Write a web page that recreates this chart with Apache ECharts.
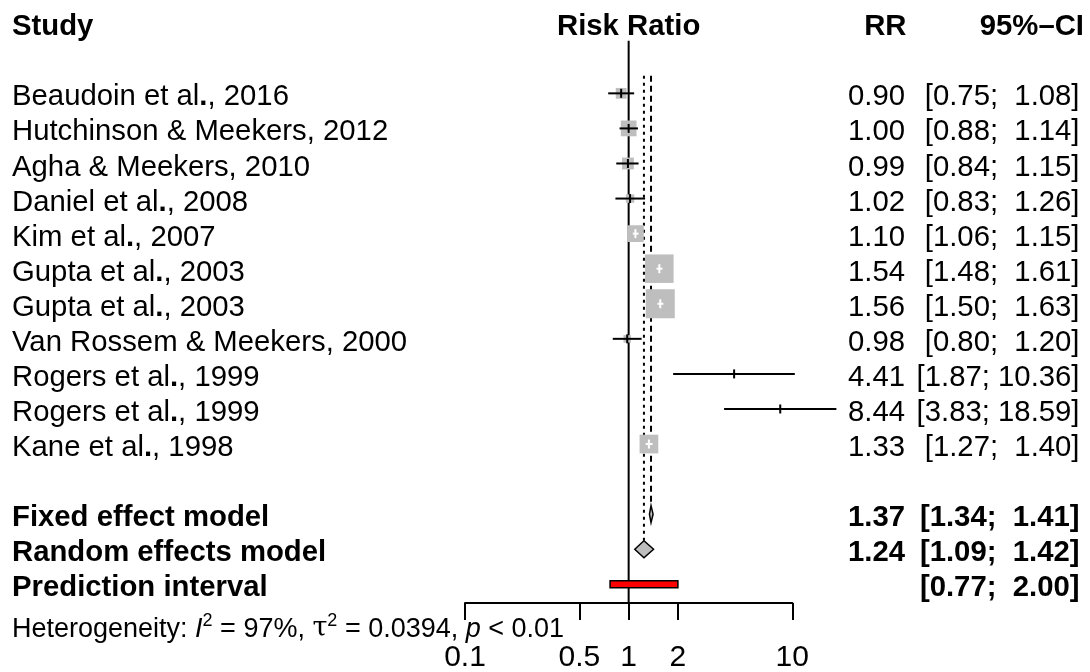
<!DOCTYPE html>
<html><head><meta charset="utf-8">
<script src="https://cdn.jsdelivr.net/npm/echarts@6/dist/echarts.min.js"></script>
<style>html,body{margin:0;padding:0;background:#fff}#c{width:1090px;height:672px}</style>
</head><body><div id="c"></div>
<script>
// ---------------- data ----------------
const studies = ['Beaudoin et al., 2016','Hutchinson & Meekers, 2012','Agha & Meekers, 2010','Daniel et al., 2008','Kim et al., 2007','Gupta et al., 2003','Gupta et al., 2003','Van Rossem & Meekers, 2000','Rogers et al., 1999','Rogers et al., 1999','Kane et al., 1998'];
const rr      = [0.90, 1.00, 0.99, 1.02, 1.10, 1.54, 1.56, 0.98, 4.41, 8.44, 1.33];
const ciLower = [0.75, 0.88, 0.84, 0.83, 1.06, 1.48, 1.50, 0.80, 1.87, 3.83, 1.27];
const ciUpper = [1.08, 1.14, 1.15, 1.26, 1.15, 1.61, 1.63, 1.20, 10.36, 18.59, 1.40];
const weights = [4.0, 8.5, 4.8, 2.4, 9.6, 27.9, 28.9, 1.9, 0.03, 0.03, 12.0];
const fixedModel = [1.37, 1.34, 1.41];     // estimate, lower, upper
const randomModel = [1.24, 1.09, 1.42];
const predictionInterval = [0.77, 2.00];
const axisTicks = [0.1, 0.5, 1, 2, 10];
const axisTickLabels = ['0.1', '0.5', '1', '2', '10'];
const hetI2 = '97%', hetTau2 = '0.0394', hetP = '< 0.01';

// ---------------- layout / style ----------------
const FF = '"Liberation Sans", Arial, Helvetica, sans-serif';
const FS = 29.3, FS_AXIS = 30, FS_HET = 27;
function font(size, bold, italic, fam) { return (italic ? 'italic ' : '') + (bold ? 'bold ' : '') + size + 'px ' + (fam || FF); }
const ROW_HEADER = 0, ROW_STUDY0 = 2, ROW_FIXED = 14, ROW_RANDOM = 15, ROW_PRED = 16, ROW_HET = 17;
const X_NAME = 12, X_RR = 905, X_RR_HEAD = 906.5, X_CI = 1079.5, X_CI_HEAD = 1084;
const TEXT_DY = 4, HET_DY = 10;
const SQ = 54, GRAY = '#bebebe';

const f2 = v => v.toFixed(2);
function ciText(lo, hi) { let h = f2(hi); while (h.length < 5) h = ' ' + h; return '[' + f2(lo) + '; ' + h + ']'; }
function nameRich(s) { return s.indexOf('et al.') >= 0 ? s.replace('et al.', 'et al{b|.}') : s; }

// text rows
const textRows = [];
textRows.push({row: ROW_HEADER, cells: [
  {x: X_NAME, align: 'left', text: 'Study', bold: true},
  {x: 'center', align: 'center', text: 'Risk Ratio', bold: true},
  {x: X_RR_HEAD, align: 'right', text: 'RR', bold: true},
  {x: X_CI_HEAD, align: 'right', text: '95%\u2013CI', bold: true}
]});
studies.forEach((s, i) => textRows.push({row: ROW_STUDY0 + i, cells: [
  {x: X_NAME, align: 'left', text: nameRich(s), rich: true},
  {x: X_RR, align: 'right', text: f2(rr[i])},
  {x: X_CI, align: 'right', text: ciText(ciLower[i], ciUpper[i])}
]}));
textRows.push({row: ROW_FIXED, cells: [
  {x: X_NAME, align: 'left', text: 'Fixed effect model', bold: true},
  {x: X_RR, align: 'right', text: f2(fixedModel[0]), bold: true},
  {x: X_CI, align: 'right', text: ciText(fixedModel[1], fixedModel[2]), bold: true}
]});
textRows.push({row: ROW_RANDOM, cells: [
  {x: X_NAME, align: 'left', text: 'Random effects model', bold: true},
  {x: X_RR, align: 'right', text: f2(randomModel[0]), bold: true},
  {x: X_CI, align: 'right', text: ciText(randomModel[1], randomModel[2]), bold: true}
]});
textRows.push({row: ROW_PRED, cells: [
  {x: X_NAME, align: 'left', text: 'Prediction interval', bold: true},
  {x: X_CI, align: 'right', text: ciText(predictionInterval[0], predictionInterval[1]), bold: true}
]});
textRows.push({row: ROW_HET, het: true});

const chart = echarts.init(document.getElementById('c'), null, {renderer: 'canvas'});

function renderText(params, api) {
  const r = textRows[params.dataIndex];
  const yRow = api.coord([1, r.row])[1];
  if (r.het) {
    const base = {font: font(FS_HET), lineHeight: 34, verticalAlign: 'middle', fill: '#000'};
    return {type: 'text', x: X_NAME, y: yRow + HET_DY, style: {
      text: '{n|Heterogeneity: }{i|I}{s|2}{n| = ' + hetI2 + ', }{g|\u03c4}{s|2}{n| = ' + hetTau2 + ', }{i|p}{n| ' + hetP + '}',
      align: 'left', verticalAlign: 'middle', font: font(FS_HET), fill: '#000',
      rich: {
        n: base,
        i: Object.assign({}, base, {font: font(FS_HET, false, true)}),
        g: Object.assign({}, base, {font: font(FS_HET, false, false, '"DejaVu Serif", serif')}),
        s: {font: font(18), lineHeight: 20, verticalAlign: 'top', fill: '#000'}
      }
    }};
  }
  const y = yRow + TEXT_DY;
  const children = r.cells.map(c => {
    const x = c.x === 'center' ? api.coord([1, r.row])[0] : c.x;
    const st = {text: c.text, align: c.align, verticalAlign: 'middle', font: font(FS, c.bold), fill: '#000'};
    if (c.rich) st.rich = {b: {font: font(FS, true), fill: '#000'}};
    return {type: 'text', x: x, y: y, style: st};
  });
  return {type: 'group', children: children};
}

function renderStudy(params, api) {
  const row = api.value(1);
  const c = api.coord([api.value(0), row]);
  const lo = api.coord([api.value(2), row])[0];
  const hi = api.coord([api.value(3), row])[0];
  const side = SQ * Math.sqrt(api.value(4) / 100);
  const inside = lo >= c[0] - side / 2 && hi <= c[0] + side / 2;
  const col = inside ? '#fff' : '#000';
  return {type: 'group', children: [
    {type: 'rect', shape: {x: c[0] - side / 2, y: c[1] - side / 2, width: side, height: side}, style: {fill: GRAY}},
    {type: 'line', shape: {x1: lo, y1: c[1], x2: hi, y2: c[1]}, style: {stroke: col, lineWidth: 2}},
    {type: 'line', shape: {x1: c[0], y1: c[1] - 4.5, x2: c[0], y2: c[1] + 4.5}, style: {stroke: col, lineWidth: 2}}
  ]};
}

function renderDiamond(params, api) {
  const row = api.value(1);
  const c = api.coord([api.value(0), row]);
  const lo = api.coord([api.value(2), row])[0];
  const hi = api.coord([api.value(3), row])[0];
  const h = 8.5;
  return {type: 'polygon', shape: {points: [[lo, c[1]], [c[0], c[1] - h], [hi, c[1]], [c[0], c[1] + h]]},
    style: {fill: GRAY, stroke: '#000', lineWidth: 1.5}};
}

function renderPred(params, api) {
  const row = api.value(2);
  const a = api.coord([api.value(0), row]);
  const b = api.coord([api.value(1), row]);
  return {type: 'rect', shape: {x: a[0], y: a[1] - 3.5, width: b[0] - a[0], height: 7},
    style: {fill: '#ff0000', stroke: '#000', lineWidth: 1.5}};
}

const refLines = [
  {x: 1, from: 0.5, to: 16.53, dash: null},
  {x: randomModel[0], from: 1.5, to: ROW_RANDOM - 0.25, dash: [3, 4]},
  {x: fixedModel[0], from: 1.5, to: ROW_FIXED - 0.24, dash: [6, 4]}
];
function renderRef(params, api) {
  const l = refLines[params.dataIndex];
  const a = api.coord([l.x, l.from]);
  const b = api.coord([l.x, l.to]);
  return {type: 'line', shape: {x1: a[0], y1: a[1], x2: b[0], y2: b[1]},
    style: {stroke: '#000', lineWidth: 2, lineDash: l.dash || null}};
}

const option = {
  animation: false,
  backgroundColor: '#fff',
  grid: [
    {left: 465, width: 327.3, top: 23.2, height: 596.2, outerBoundsMode: 'none', containLabel: false},
    {left: 465, width: 327.3, top: 602, height: 1, outerBoundsMode: 'none', containLabel: false}
  ],
  xAxis: [
    {gridIndex: 0, type: 'log', logBase: 10, min: 0.1, max: 10, show: false},
    {gridIndex: 1, type: 'log', logBase: 10, min: 0.1, max: 10, position: 'bottom',
      axisLine: {show: true, lineStyle: {color: '#000', width: 2}},
      axisTick: {show: true, length: 17, lineStyle: {color: '#000', width: 2}, customValues: axisTicks},
      axisLabel: {show: true, customValues: axisTicks, fontSize: FS_AXIS, fontFamily: FF, color: '#000', margin: 40,
        formatter: v => {
          const k = axisTicks.findIndex(t => Math.abs(Math.log10(t) - Math.log10(v)) < 1e-6);
          return k >= 0 ? axisTickLabels[k] : '';
        }},
      splitLine: {show: false}, minorTick: {show: false}}
  ],
  yAxis: [
    {gridIndex: 0, type: 'value', min: 0, max: 17, inverse: true, show: false},
    {gridIndex: 1, type: 'value', min: 0, max: 1, show: false}
  ],
  series: [
    {type: 'custom', xAxisIndex: 0, yAxisIndex: 0, clip: false, renderItem: renderRef,
      data: refLines.map(l => [l.x, l.from])},
    {type: 'custom', xAxisIndex: 0, yAxisIndex: 0, clip: false, renderItem: renderStudy,
      data: studies.map((s, i) => [rr[i], ROW_STUDY0 + i, ciLower[i], ciUpper[i], weights[i]])},
    {type: 'custom', xAxisIndex: 0, yAxisIndex: 0, clip: false, renderItem: renderDiamond,
      data: [[fixedModel[0], ROW_FIXED, fixedModel[1], fixedModel[2]], [randomModel[0], ROW_RANDOM, randomModel[1], randomModel[2]]]},
    {type: 'custom', xAxisIndex: 0, yAxisIndex: 0, clip: false, renderItem: renderPred,
      data: [[predictionInterval[0], predictionInterval[1], ROW_PRED]]},
    {type: 'custom', xAxisIndex: 0, yAxisIndex: 0, clip: false, renderItem: renderText,
      data: textRows.map(r => [1, r.row])}
  ]
};
chart.setOption(option);
</script>
</body></html>
